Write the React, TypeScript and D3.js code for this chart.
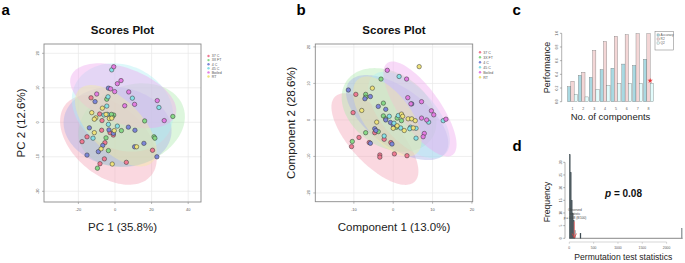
import React from "react";
import * as d3 from "d3";

const FONT = "'Liberation Sans', Arial, Helvetica, sans-serif";

// ---------- shared group info ----------
const groupNames = ["37 C", "3X FT", "4 C", "45 C", "Boiled", "RT"];
const pointColors = ["#EE7A92", "#86D886", "#7C86D8", "#86E0E6", "#E27CE2", "#EEE27A"];
const ellipseColors = ["#F2A2B6", "#AEEAAE", "#A6AEE8", "#ADEFF3", "#EEA6EE", "#F2ECA0"];

// ---------- panel a: PCA scores ----------
const pca37C: [number, number][] = [
  [-13.1, 7.1], [-8.4, 2.4], [-7.3, -2.3], [-5.5, -5.9], [-0.9, -3.7], [-18, -5.6], [-15.3, -4.2],
  [-5.8, -10.6], [-8.2, -12], [6.2, -11.6], [20.5, -8.1], [-7.1, 0.5], [-2.7, -3],
];
const pca3XFT: [number, number][] = [
  [31.6, 1.7], [16.2, 0.4], [21.3, -4.2], [21.8, -4.6], [-3.6, -8.2], [-4.9, -4.5], [-9.6, -13.3],
  [-4.5, 6.7], [-0.7, 2.1], [-1.5, 1.6], [3.5, -2.4], [-2, 2.3],
];
const pca4C: [number, number][] = [
  [-3.6, 9.9], [-10.9, 6], [-14, -1.6], [-15.3, -9.5], [-9.1, -8.5], [-6.7, -6.7], [-3.3, -2.2],
  [-0.9, -3.2], [7.3, -1.4], [10.9, -2.3], [10.7, -7.1], [15.8, -6.1], [22.9, -10],
];
const pca45C: [number, number][] = [
  [-1.8, 15.2], [9.5, 7], [24, 4.3], [-3.8, 7.4], [-4.5, 4.7], [-4.2, 2.3], [-12, -4.6],
  [-3.6, -0.6], [1.3, -1.1], [-6, 2.1],
];
const pcaBoiled: [number, number][] = [
  [-0.7, 16.1], [1.3, 11.2], [3.3, 12.1], [-2.4, 9.7], [-0.2, 8.9], [7.5, 8.8], [-10, 8.2],
  [5.3, 4.8], [10.7, 5.2], [23.1, 6.3], [26.9, 0.5],
];
const pcaRT: [number, number][] = [
  [-12.7, 2.8], [-10.5, 1.3], [-11.3, 0.9], [-11.3, -3], [-6.9, 4.1], [-4.9, 2.3], [-3.1, 1.1],
  [-1.8, 1.2], [-7.6, -7.7], [-1.5, -12.1], [11.8, -7.1], [-0.4, -2.4],
];
// [cx, cy, halfX, halfY, rho]
const pcaEllipses: number[][] = [
  [-3.6, -5.1, 26.4, 13.0, -0.42],
  [9.1, -0.8, 29.1, 12.1, 0.2],
  [1.4, -1.3, 29.5, 11.6, -0.1],
  [4.1, 4.3, 27.7, 12.8, -0.18],
  [4.5, 7.7, 29, 9.4, -0.45],
  [0.45, -1, 22.3, 11.8, -0.6],
];
const pcaXTicks = [-20, 0, 20, 40];
const pcaYTicks = [-20, -10, 0, 10, 20];

// ---------- panel b: PLS-DA scores ----------
const pls37C: [number, number][] = [
  [-9.5, 7.0], [-10.2, 2], [-8.7, -4.8], [-10.6, -7.3], [-6.1, -6.2], [-4.7, -3.5], [-3.4, -9.6],
  [-3.4, -10.2], [0.3, -9.3], [3.5, -9.8], [-2.3, -5.3], [-0.6, -6.2],
];
const pls3XFT: [number, number][] = [
  [-3.1, 11.2], [-7.0, 7.0], [-7.0, 6.2], [-2.5, 4.6], [-2.5, 1.1], [-1.9, 0.3], [2.1, -0.2],
  [-7, -3.5], [-10.4, -5.9], [-3.8, -3.2], [0.8, -2], [1, 0.5],
];
const pls4C: [number, number][] = [
  [-11.4, 8.2], [-7.2, 5.8], [-5.8, 6.4], [-3.8, 3.7], [-1.9, 2.9], [-4.7, -2.4], [-4.4, -2.9],
  [-1.9, 0], [-0.7, -0.7], [0, -1.4], [-5.8, -6.4], [-0.3, -6.6], [4.7, 4.4],
];
const pls45C: [number, number][] = [
  [1.5, 11.9], [1.3, 1.2], [0.2, -0.9], [1.9, -2.2], [4.4, -2.0], [5.8, -2.3], [5.8, -5],
  [9, -0.6], [12.7, -0.2], [-2.3, -4.4], [-1, 1], [4.2, -2.4],
];
const plsBoiled: [number, number][] = [
  [-1.5, 13.6], [3.4, 11.2], [3.7, 6.1], [4.5, 4.4], [7.2, 5.0], [9.7, 2.5], [10.3, 1.4],
  [7.2, 0.5], [8.5, 0], [7.9, -3.7], [7.6, -4.6], [13.4, 0.2],
];
const plsRT: [number, number][] = [
  [6.6, 14.6], [-5.3, 8.7], [-8, 2.6], [-4.2, -0.6], [2.1, 1.6], [2.4, 1], [3.8, 0.3],
  [4.7, 0.3], [5.6, -0.2], [0, -2.3], [2.8, -2.9], [5.1, -2.2], [1, -1.6],
];
const plsEllipses: number[][] = [
  [-4.65, -5.25, 11.05, 12.55, -0.7],
  [-1.05, 2.75, 12.05, 11.45, -0.3],
  [1, 0.65, 13, 11.65, -0.6],
  [4, 1.35, 10.4, 11.85, -0.6],
  [6.8, 3, 9.3, 13, -0.75],
  [-1.5, 0.95, 8.7, 10.95, -0.6],
];
const plsXTicks = [-10, 0, 10, 20];
const plsYTicks = [-20, -10, 0, 10, 20];

// ---------- panel c: performance ----------
const components = ["1", "2", "3", "4", "5", "6", "7", "8"];
const accuracy = [0.22, 0.385, 0.356, 0.47, 0.49, 0.55, 0.53, 0.62];
const r2 = [0.3, 0.43, 0.75, 0.88, 0.956, 0.98, 0.995, 0.995];
const q2 = [0.11, 0.07, 0.18, 0.24, 0.27, 0.27, 0.27, 0.27];
const perfSeries = ["Accuracy", "R2", "Q2"];
const perfColors = ["#A9D9E2", "#F3D6D6", "#E2FCFC"];
const perfTicks = [0, 0.2, 0.4, 0.6, 0.8, 1.0];

// ---------- panel d: permutation ----------
const binStarts = [0, 20, 40, 60, 80, 100, 220, 2300];
const binCounts = [33, 26, 15, 10, 7, 3, 2, 4];
const binWidth = 20;
const observedStat = 103;
const permXTicks = [0, 500, 1000, 1500, 2000];
const permYTicks = [0, 5, 10, 15, 20, 25, 30];

type Pt = [number, number];

function ScatterPanel(props: {
  id: string;
  x: d3.ScaleLinear<number, number>;
  y: d3.ScaleLinear<number, number>;
  xTicks: number[];
  yTicks: number[];
  series: Pt[][];
  ellipses: number[][];
  title: string;
  xLabel: string;
  yLabel: string;
  yLabelX: number;
  legendX: number;
  legendY0: number;
  legendStep: number;
}) {
  const { id, x, y, xTicks, yTicks, series, ellipses } = props;
  const [x0, x1] = x.range();
  const [y0, y1] = y.range(); // y0 bottom, y1 top
  const cxm = (x0 + x1) / 2;
  const line = d3.line();
  const ellipsePath = (e: number[]) => {
    const [cx, cy, hx, hy, rho] = e;
    const s = Math.sqrt(1 - rho * rho);
    const pts = d3.range(0, 360, 3).map((deg) => {
      const t = (deg * Math.PI) / 180;
      return [x(cx + hx * Math.cos(t)), y(cy + hy * (rho * Math.cos(t) + s * Math.sin(t)))] as [number, number];
    });
    return line(pts) + "Z";
  };
  return (
    <g>
      <defs>
        <clipPath id={id}>
          <rect x={x0} y={y1} width={x1 - x0} height={y0 - y1} />
        </clipPath>
      </defs>
      <rect x={x0} y={y1} width={x1 - x0} height={y0 - y1} fill="#fff" />
      {xTicks.map((t) => (
        <line key={"gx" + t} x1={x(t)} x2={x(t)} y1={y1} y2={y0} stroke="#e8e8e8" strokeWidth={0.7} />
      ))}
      {yTicks.map((t) => (
        <line key={"gy" + t} x1={x0} x2={x1} y1={y(t)} y2={y(t)} stroke="#e8e8e8" strokeWidth={0.7} />
      ))}
      <g clipPath={`url(#${id})`}>
        {ellipses.map((e, i) => (
          <path key={"e" + i} d={ellipsePath(e)} fill={ellipseColors[i]} fillOpacity={0.42} stroke="none" />
        ))}
        {series.map((pts, i) =>
          pts.map((p, j) => (
            <circle key={`p${i}-${j}`} cx={x(p[0])} cy={y(p[1])} r={2.2} fill={pointColors[i]} stroke="#333" strokeWidth={0.5} />
          ))
        )}
      </g>
      <rect x={x0} y={y1} width={x1 - x0} height={y0 - y1} fill="none" stroke="#8a8a8a" strokeWidth={0.9} />
      {xTicks.map((t) => (
        <g key={"tx" + t}>
          <line x1={x(t)} x2={x(t)} y1={y0} y2={y0 + 2} stroke="#8a8a8a" strokeWidth={0.6} />
          <text x={x(t)} y={y0 + 9} fontSize={4} fill="#555" textAnchor="middle" fontFamily={FONT}>
            {t}
          </text>
        </g>
      ))}
      {yTicks.map((t) => (
        <g key={"ty" + t}>
          <line x1={x0 - 2} x2={x0} y1={y(t)} y2={y(t)} stroke="#8a8a8a" strokeWidth={0.6} />
          <text
            transform={`translate(${x0 - 5.5},${y(t)}) rotate(-90)`}
            fontSize={4}
            fill="#555"
            textAnchor="middle"
            fontFamily={FONT}
          >
            {t}
          </text>
        </g>
      ))}
      <text x={cxm} y={34} fontSize={11.5} fontWeight="bold" textAnchor="middle" fontFamily={FONT} fill="#111">
        {props.title}
      </text>
      <text x={cxm} y={231} fontSize={11.5} textAnchor="middle" fontFamily={FONT} fill="#222">
        {props.xLabel}
      </text>
      <text
        transform={`translate(${props.yLabelX},${(y0 + y1) / 2}) rotate(-90)`}
        fontSize={11.5}
        textAnchor="middle"
        fontFamily={FONT}
        fill="#222"
      >
        {props.yLabel}
      </text>
      {groupNames.map((g, i) => (
        <g key={"lg" + g}>
          <circle cx={props.legendX} cy={props.legendY0 + i * props.legendStep} r={1.2} fill={pointColors[i]} />
          <text
            x={props.legendX + 3.2}
            y={props.legendY0 + i * props.legendStep + 1.3}
            fontSize={3.6}
            fill="#555"
            fontFamily={FONT}
          >
            {g}
          </text>
        </g>
      ))}
    </g>
  );
}

function PerformancePanel() {
  const xb = d3.scaleBand<string>().domain(components).range([567.5, 653.5]).paddingInner(0.08);
  const xs = d3.scaleBand<string>().domain(perfSeries).range([0, xb.bandwidth()]);
  const y = d3.scaleLinear().domain([0, 1]).range([101.7, 33.3]);
  const values = [accuracy, r2, q2];
  const axisX = 561.7;
  const starX = (xb("8") ?? 0) + (xs("Q2") ?? 0);
  return (
    <g>
      {components.map((c, ci) =>
        perfSeries.map((s, si) => (
          <rect
            key={c + s}
            x={(xb(c) ?? 0) + (xs(s) ?? 0)}
            y={y(values[si][ci])}
            width={xs.bandwidth()}
            height={y(0) - y(values[si][ci])}
            fill={perfColors[si]}
            stroke="#6f6f6f"
            strokeWidth={0.35}
          />
        ))
      )}
      <path
        d={d3.symbol().type(d3.symbolStar).size(9)() ?? ""}
        transform={`translate(${starX},${y(q2[7]) - 2.5})`}
        fill="#E8383B"
      />
      <line x1={axisX} x2={axisX} y1={y(0)} y2={y(1)} stroke="#666" strokeWidth={0.5} />
      {perfTicks.map((t) => (
        <g key={"pt" + t}>
          <line x1={axisX - 1.8} x2={axisX} y1={y(t)} y2={y(t)} stroke="#666" strokeWidth={0.5} />
          <text
            transform={`translate(${axisX - 3.5},${y(t)}) rotate(-90)`}
            fontSize={3.4}
            fill="#555"
            textAnchor="middle"
            fontFamily={FONT}
          >
            {t.toFixed(1)}
          </text>
        </g>
      ))}
      {components.map((c) => (
        <text
          key={"cl" + c}
          x={(xb(c) ?? 0) + xb.bandwidth() / 2}
          y={109.5}
          fontSize={3.6}
          fill="#555"
          textAnchor="middle"
          fontFamily={FONT}
        >
          {c}
        </text>
      ))}
      <text x={610.5} y={120} fontSize={9.5} textAnchor="middle" fontFamily={FONT} fill="#222">
        No. of components
      </text>
      <text
        transform={`translate(549.5,${(y(0) + y(1)) / 2}) rotate(-90)`}
        fontSize={9}
        textAnchor="middle"
        fontFamily={FONT}
        fill="#222"
      >
        Performance
      </text>
      <rect x={655} y={31.7} width={18.3} height={18.3} fill="#fff" stroke="#777" strokeWidth={0.5} />
      {perfSeries.map((s, i) => (
        <g key={"pl" + s}>
          <rect x={657} y={35 + i * 4 - 1.1} width={2.4} height={2.2} fill={perfColors[i]} stroke="#6f6f6f" strokeWidth={0.3} />
          <text x={660.6} y={35 + i * 4 + 1.1} fontSize={3.2} fill="#555" fontFamily={FONT}>
            {s}
          </text>
        </g>
      ))}
    </g>
  );
}

function PermutationPanel() {
  const x = d3.scaleLinear().domain([0, 2000]).range([569.3, 666.6]);
  const y = d3.scaleLinear().domain([0, 30]).range([238.3, 162.3]);
  const axisX = 565;
  const ox = x(observedStat);
  return (
    <g>
      <line x1={x(0)} x2={x(2330)} y1={y(0)} y2={y(0)} stroke="#555" strokeWidth={0.7} />
      {binStarts.map((b, i) => (
        <rect
          key={"b" + b}
          x={x(b)}
          y={y(binCounts[i])}
          width={x(b + binWidth) - x(b)}
          height={y(0) - y(binCounts[i])}
          fill={b > 2000 ? "#8a9296" : "#3d4b51"}
          stroke={b > 2000 ? "#8a9296" : "#3d4b51"}
          strokeWidth={0.3}
        />
      ))}
      <line x1={axisX} x2={axisX} y1={y(0)} y2={y(30)} stroke="#666" strokeWidth={0.5} />
      {permYTicks.map((t) => (
        <g key={"dy" + t}>
          <line x1={axisX - 1.8} x2={axisX} y1={y(t)} y2={y(t)} stroke="#666" strokeWidth={0.5} />
          <text
            transform={`translate(${axisX - 3.5},${y(t)}) rotate(-90)`}
            fontSize={3.4}
            fill="#555"
            textAnchor="middle"
            fontFamily={FONT}
          >
            {t}
          </text>
        </g>
      ))}
      <line x1={x(0)} x2={x(2000)} y1={242} y2={242} stroke="#999" strokeWidth={0.4} />
      {permXTicks.map((t) => (
        <g key={"dx" + t}>
          <line x1={x(t)} x2={x(t)} y1={242} y2={243.8} stroke="#999" strokeWidth={0.4} />
          <text x={x(t)} y={248.8} fontSize={3.4} fill="#555" textAnchor="middle" fontFamily={FONT}>
            {t}
          </text>
        </g>
      ))}
      <line x1={ox} x2={ox} y1={221.5} y2={237.5} stroke="#EE7C7C" strokeWidth={1} />
      <path d={`M${ox - 2.2},${233.5} L${ox},${237.8} L${ox + 2.2},${233.5}`} fill="none" stroke="#E03A3A" strokeWidth={0.7} />
      <text x={575} y={211.2} fontSize={3.2} fill="#444" textAnchor="middle" fontFamily={FONT}>
        Observed
      </text>
      <text x={575} y={215.2} fontSize={3.2} fill="#444" textAnchor="middle" fontFamily={FONT}>
        statistic
      </text>
      <text x={575} y={219.2} fontSize={3.2} fill="#444" textAnchor="middle" fontFamily={FONT}>
        p = 0.08 (8/100)
      </text>
      <text x={605} y={196.5} fontSize={10} fontWeight="bold" fontFamily={FONT} fill="#111">
        <tspan fontStyle="italic">p</tspan> = 0.08
      </text>
      <text x={623.3} y={260} fontSize={8.6} textAnchor="middle" fontFamily={FONT} fill="#222">
        Permutation test statistics
      </text>
      <text
        transform={`translate(549.5,202) rotate(-90)`}
        fontSize={8.6}
        textAnchor="middle"
        fontFamily={FONT}
        fill="#222"
      >
        Frequency
      </text>
    </g>
  );
}

export default function App() {
  const xa = d3.scaleLinear().domain([-38.8, 47]).range([44, 201]);
  const ya = d3.scaleLinear().domain([-23.1, 22.7]).range([202, 44]);
  const xb = d3.scaleLinear().domain([-19.8, 20.2]).range([315.3, 472.7]);
  const yb = d3.scaleLinear().domain([-22.4, 20.8]).range([201.7, 44]);
  const panelLabel = (t: string, x: number, y: number) => (
    <text x={x} y={y} fontSize={15} fontWeight="bold" fontFamily={FONT} fill="#000">
      {t}
    </text>
  );
  return (
    <svg
      width={685}
      height={263}
      viewBox="0 0 685 263"
      style={{ position: "absolute", left: 0, top: 0, background: "#fff" }}
    >
      <rect width={685} height={263} fill="#fff" />
      <ScatterPanel
        id="clipA"
        x={xa}
        y={ya}
        xTicks={pcaXTicks}
        yTicks={pcaYTicks}
        series={[pca37C, pca3XFT, pca4C, pca45C, pcaBoiled, pcaRT]}
        ellipses={pcaEllipses}
        title="Scores Plot"
        xLabel="PC 1 (35.8%)"
        yLabel="PC 2 (12.6%)"
        yLabelX={25}
        legendX={208.5}
        legendY0={56}
        legendStep={4.1}
      />
      <ScatterPanel
        id="clipB"
        x={xb}
        y={yb}
        xTicks={plsXTicks}
        yTicks={plsYTicks}
        series={[pls37C, pls3XFT, pls4C, pls45C, plsBoiled, plsRT]}
        ellipses={plsEllipses}
        title="Scores Plot"
        xLabel="Component 1 (13.0%)"
        yLabel="Component 2 (28.6%)"
        yLabelX={295}
        legendX={480}
        legendY0={52.3}
        legendStep={5}
      />
      <PerformancePanel />
      <PermutationPanel />
      {panelLabel("a", 1.5, 15)}
      {panelLabel("b", 296.5, 15)}
      {panelLabel("c", 512.5, 15)}
      {panelLabel("d", 512.5, 151)}
    </svg>
  );
}
